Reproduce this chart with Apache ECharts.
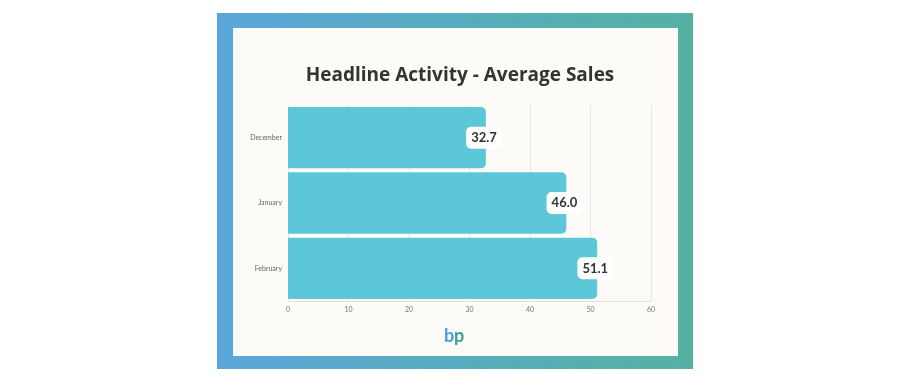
<!DOCTYPE html>
<html>
<head>
<meta charset="utf-8">
<script src="https://cdn.jsdelivr.net/npm/echarts@6/dist/echarts.min.js"></script>
<style>html,body{margin:0;padding:0;background:#fff;}#c{width:922px;height:385px;}</style>
</head>
<body>
<div id="c"></div>
<script>
var titleText = 'Headline Activity - Average Sales';
var categories = ['December', 'January', 'February'];
var values = [32.7, 46.0, 51.1];
var xTicks = [0, 10, 20, 30, 40, 50, 60];

var chart = echarts.init(document.getElementById('c'), null, {renderer: 'canvas'});
chart.setOption({
  animation: false,
  backgroundColor: '#ffffff',
  title: {
    text: titleText,
    left: 455, top: 61, textAlign: 'center',
    textStyle: {fontFamily: 'Open Sans', fontWeight: 'bold', fontSize: 19, color: '#333333'}
  },
  graphic: [
    {type: 'rect', z: -10, shape: {x: 217, y: 13, width: 476, height: 356},
     style: {fill: new echarts.graphic.LinearGradient(0, 0, 1, 0, [
       {offset: 0, color: '#5aa6da'}, {offset: 1, color: '#55b2a2'}])}},
    {type: 'rect', z: -9, shape: {x: 233, y: 28, width: 445, height: 328},
     style: {fill: '#fcfbf8'}},
    {type: 'text', z: 10, left: 444, top: 327,
     style: {text: 'b', fontFamily: 'Lato', fontWeight: 'bold', fontSize: 18, fill: '#4aa0de'}},
    {type: 'text', z: 10, left: 454, top: 327,
     style: {text: 'p', fontFamily: 'Lato', fontWeight: 'bold', fontSize: 18, fill: '#3aa396'}}
  ],
  grid: {left: 288, right: 271, top: 105, bottom: 84, containLabel: false},
  xAxis: {
    type: 'value', min: 0, max: 60, interval: 10,
    axisLine: {show: true, lineStyle: {color: '#e2e0dc'}},
    axisTick: {show: false},
    axisLabel: {color: '#777', fontSize: 7, fontFamily: 'Lato', margin: 5,
      formatter: function (v) { return xTicks.indexOf(v) >= 0 ? String(v) : ''; }},
    splitLine: {show: true, lineStyle: {color: '#e8e6e2', width: 1}}
  },
  yAxis: {
    type: 'category', data: categories, inverse: true,
    axisLine: {show: false}, axisTick: {show: false},
    axisLabel: {color: '#666', fontSize: 7, fontFamily: 'Lato', margin: 6}
  },
  series: [{
    type: 'bar', data: values, barCategoryGap: '6%',
    itemStyle: {color: '#5bc7d9', borderRadius: [0, 5, 5, 0]},
    label: {
      show: true, position: 'insideRight', offset: [21, 0],
      formatter: function (p) { return p.value.toFixed(1); },
      backgroundColor: '#ffffff', borderRadius: 5, padding: [5, 5, 4, 5],
      color: '#333', fontWeight: 'bold', fontSize: 13, fontFamily: 'Lato'
    }
  }]
});
</script>
</body>
</html>
